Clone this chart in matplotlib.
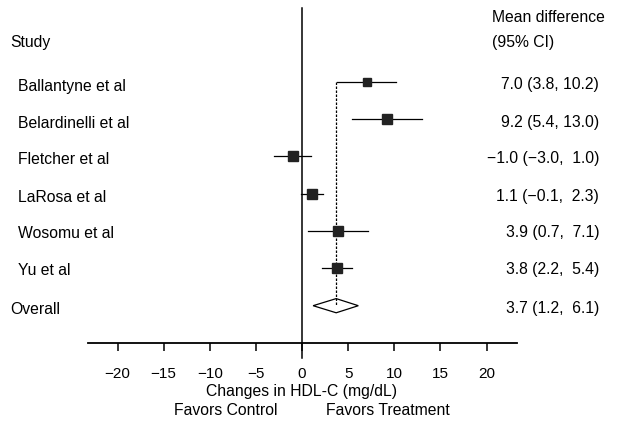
import matplotlib
matplotlib.use("Agg")
import matplotlib.pyplot as plt

plt.rcParams['font.family'] = ['Liberation Sans', 'DejaVu Sans']

studies = ["Ballantyne et al", "Belardinelli et al", "Fletcher et al",
           "LaRosa et al", "Wosomu et al", "Yu et al"]
means = [7.0, 9.2, -1.0, 1.1, 3.9, 3.8]
lows = [3.8, 5.4, -3.0, -0.1, 0.7, 2.2]
highs = [10.2, 13.0, 1.0, 2.3, 7.1, 5.4]
ci_labels = ["7.0 (3.8, 10.2)", "9.2 (5.4, 13.0)", "\u22121.0 (\u22123.0,  1.0)",
             "1.1 (\u22120.1,  2.3)", "3.9 (0.7,  7.1)", "3.8 (2.2,  5.4)"]
overall_mean, overall_low, overall_high = 3.7, 1.2, 6.1
overall_label = "3.7 (1.2,  6.1)"
xticks = [-20, -15, -10, -5, 0, 5, 10, 15, 20]

marker_sizes = [6.2, 6.6, 7.6, 7.4, 6.6, 7.4]

W, H = 617, 423
fig = plt.figure(figsize=(W / 100, H / 100), dpi=100)
left, right = 88, 517
top, bottom = 8, 343
ax = fig.add_axes([left / W, 1 - bottom / H, (right - left) / W, (bottom - top) / H])
ax.set_xlim(-23.2, 23.3)
ax.set_ylim(8.0, -0.98)

for s in ['top', 'right', 'left']:
    ax.spines[s].set_visible(False)
ax.spines['bottom'].set_linewidth(1.3)
ax.set_yticks([])
ax.set_xticks(xticks)
ax.set_xticklabels([str(t).replace('-', '\u2212') for t in xticks], fontsize=11)
ax.tick_params(axis='x', direction='out', length=6, width=1.1, pad=11)

# zero line
ax.plot([0, 0], [-0.98, 8.4], color='black', lw=1.1, clip_on=False)

rows = list(range(1, len(studies) + 1))
# dashed overall line
ax.plot([overall_mean, overall_mean], [1, 7], color='black', lw=0.9,
        ls=(0, (2, 1.2)))

for y, m, lo, hi, ms in zip(rows, means, lows, highs, marker_sizes):
    ax.plot([lo, hi], [y, y], color='black', lw=0.9)
    ax.plot(m, y, marker='s', color='#222222', markersize=ms, ls='none')

oy = 7
hh = 0.19
ax.fill([overall_low, overall_mean, overall_high, overall_mean],
        [oy, oy - hh, oy, oy + hh], facecolor='white', edgecolor='black', lw=0.9)

fs = 11.3
def fy(px):
    return 1 - px / H

fig.text(10 / W, fy(42), "Study", fontsize=fs, va='center', ha='left')
row_px = [86, 123, 160, 197, 233, 270]
for name, py in zip(studies, row_px):
    fig.text(18 / W, fy(py), name, fontsize=fs, va='center', ha='left')
fig.text(10 / W, fy(309), "Overall", fontsize=fs, va='center', ha='left')

fig.text(492 / W, fy(17), "Mean difference", fontsize=fs, va='center', ha='left')
fig.text(492 / W, fy(42), "(95% CI)", fontsize=fs, va='center', ha='left')
for lab, py in zip(ci_labels, row_px):
    fig.text(599 / W, fy(py - 1), lab, fontsize=fs, va='center', ha='right')
fig.text(599 / W, fy(308), overall_label, fontsize=fs, va='center', ha='right')

fig.text(301 / W, fy(391), "Changes in HDL-C (mg/dL)", fontsize=fs, va='center', ha='center')
fig.text(226 / W, fy(410), "Favors Control", fontsize=fs, va='center', ha='center')
fig.text(388 / W, fy(410), "Favors Treatment", fontsize=fs, va='center', ha='center')

fig.savefig("out.png", dpi=100)
